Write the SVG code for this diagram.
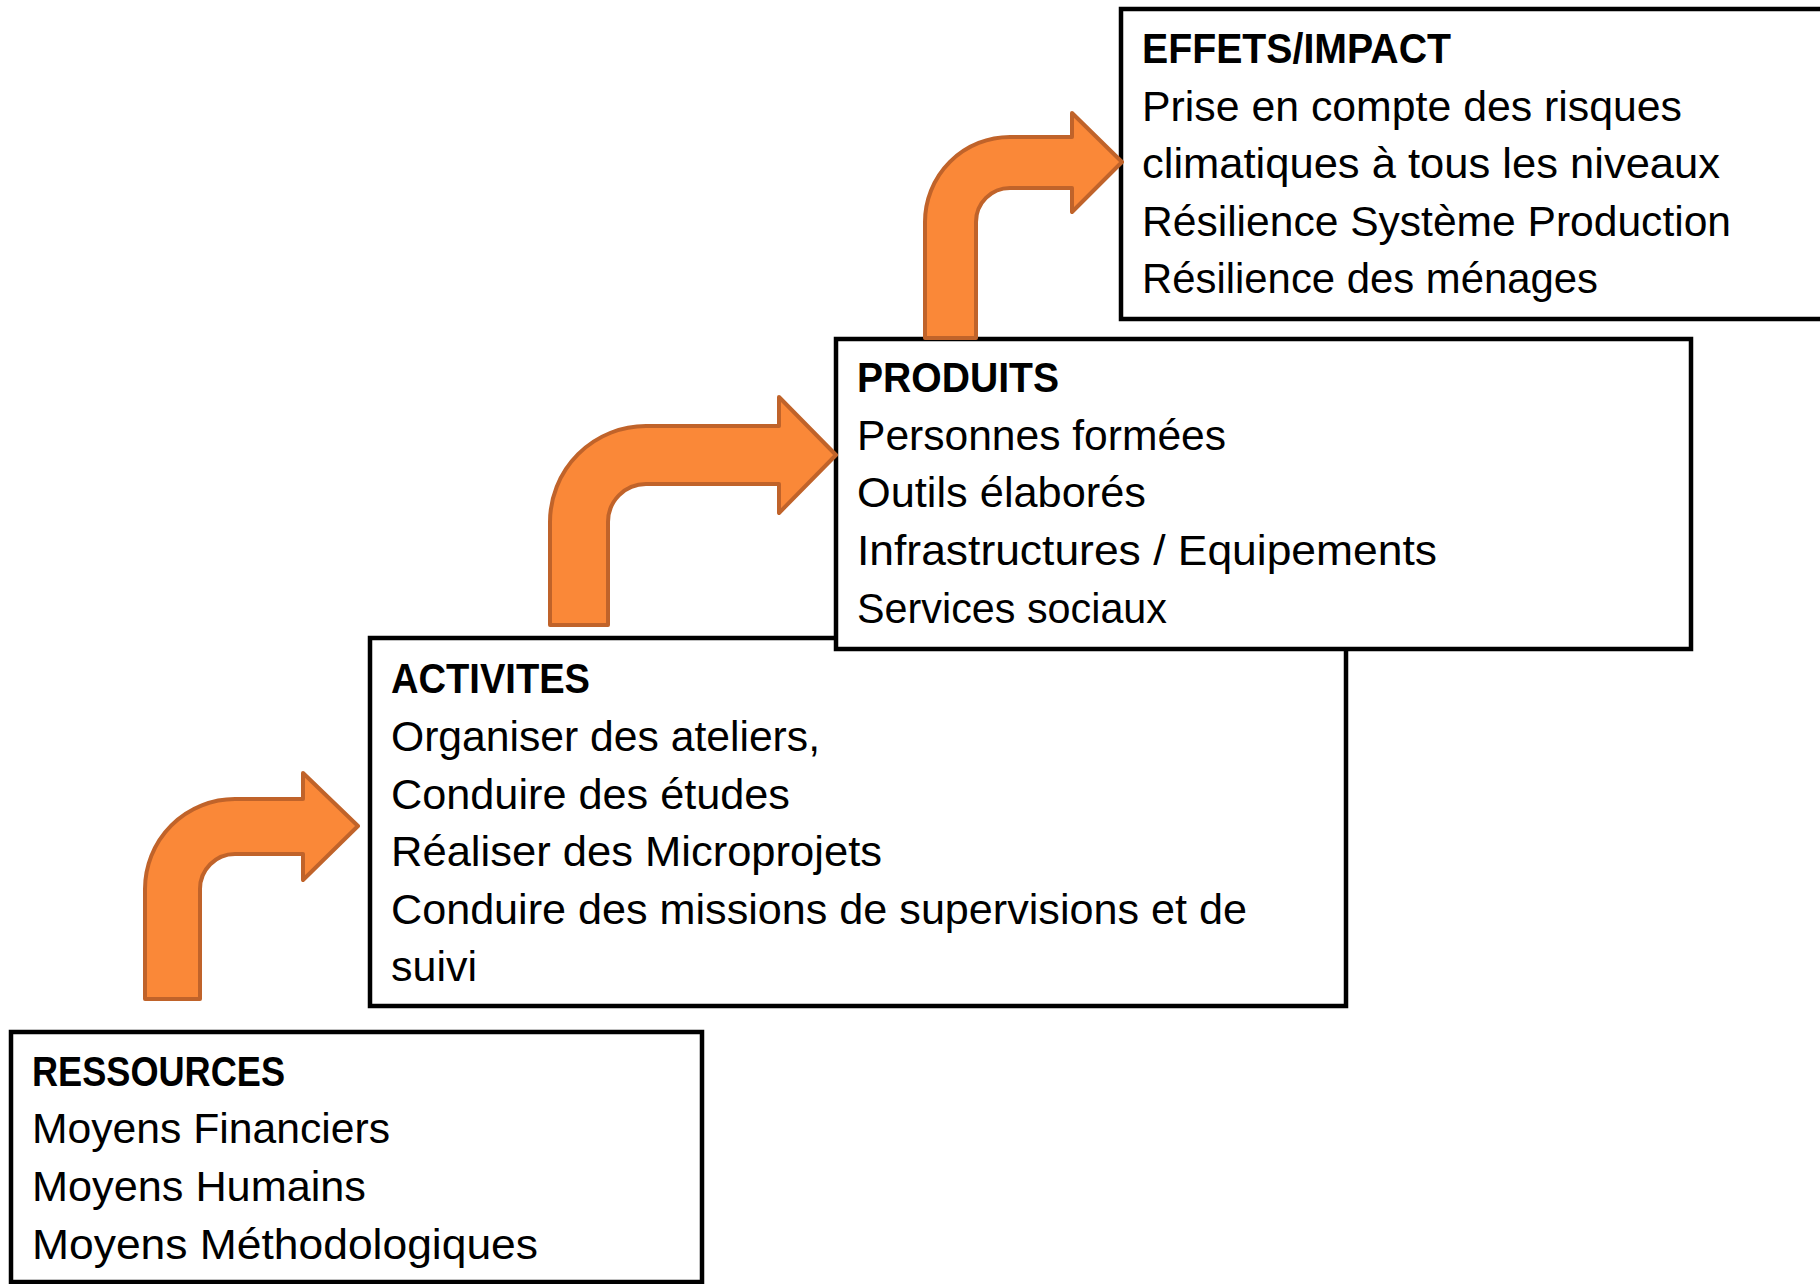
<svg xmlns="http://www.w3.org/2000/svg" width="1820" height="1284" viewBox="0 0 1820 1284">
<style>
.box{fill:#fff;stroke:#000;stroke-width:4.5}
.t{font-family:"Liberation Sans",Arial,sans-serif;font-size:42px;fill:#000}
.h{font-weight:bold}
.arr{fill:#FA8838;stroke:#C0632A;stroke-width:4;stroke-linejoin:round}
</style>
<rect width="1820" height="1284" fill="#fff"/>
<g id="activites">
<rect class="box" x="370" y="638" width="976" height="368"/>
<text class="t h" x="391" y="693" textLength="199" lengthAdjust="spacingAndGlyphs">ACTIVITES</text>
<text class="t" x="391" y="751" textLength="429" lengthAdjust="spacingAndGlyphs">Organiser des ateliers,</text>
<text class="t" x="391" y="809" textLength="399" lengthAdjust="spacingAndGlyphs">Conduire des études</text>
<text class="t" x="391" y="866" textLength="491" lengthAdjust="spacingAndGlyphs">Réaliser des Microprojets</text>
<text class="t" x="391" y="924" textLength="856" lengthAdjust="spacingAndGlyphs">Conduire des missions de supervisions et de</text>
<text class="t" x="391" y="981" textLength="86" lengthAdjust="spacingAndGlyphs">suivi</text>
</g>
<g id="produits">
<rect class="box" x="836" y="339" width="855" height="310"/>
<text class="t h" x="857" y="392" textLength="202" lengthAdjust="spacingAndGlyphs">PRODUITS</text>
<text class="t" x="857" y="450" textLength="369" lengthAdjust="spacingAndGlyphs">Personnes formées</text>
<text class="t" x="857" y="507" textLength="289" lengthAdjust="spacingAndGlyphs">Outils élaborés</text>
<text class="t" x="857" y="565" textLength="580" lengthAdjust="spacingAndGlyphs">Infrastructures / Equipements</text>
<text class="t" x="857" y="623" textLength="310" lengthAdjust="spacingAndGlyphs">Services sociaux</text>
</g>
<g id="effets">
<rect class="box" x="1121" y="9" width="720" height="310"/>
<text class="t h" x="1142" y="63" textLength="309" lengthAdjust="spacingAndGlyphs">EFFETS/IMPACT</text>
<text class="t" x="1142" y="121" textLength="540" lengthAdjust="spacingAndGlyphs">Prise en compte des risques</text>
<text class="t" x="1142" y="178" textLength="578" lengthAdjust="spacingAndGlyphs">climatiques à tous les niveaux</text>
<text class="t" x="1142" y="236" textLength="589" lengthAdjust="spacingAndGlyphs">Résilience Système Production</text>
<text class="t" x="1142" y="293" textLength="456" lengthAdjust="spacingAndGlyphs">Résilience des ménages</text>
</g>
<g id="ressources">
<rect class="box" x="11" y="1032" width="691" height="250"/>
<text class="t h" x="32" y="1086" textLength="253" lengthAdjust="spacingAndGlyphs">RESSOURCES</text>
<text class="t" x="32" y="1143" textLength="358" lengthAdjust="spacingAndGlyphs">Moyens Financiers</text>
<text class="t" x="32" y="1201" textLength="334" lengthAdjust="spacingAndGlyphs">Moyens Humains</text>
<text class="t" x="32" y="1259" textLength="506" lengthAdjust="spacingAndGlyphs">Moyens Méthodologiques</text>
</g>
<g id="connectors">
<path class="arr" d="M 145 999 L 145 889 A 90 90 0 0 1 235 799 L 303 799 L 303 773 L 358 826 L 303 880 L 303 854 L 235 854 A 35 35 0 0 0 200 889 L 200 999 Z"/>
<path class="arr" d="M 550 625 L 550 522 A 96 96 0 0 1 646 426 L 779 426 L 779 397 L 836 455 L 779 513 L 779 484 L 646 484 A 38 38 0 0 0 608 522 L 608 625 Z"/>
<path class="arr" d="M 925 338 L 925 222 A 85 85 0 0 1 1010 137 L 1072 137 L 1072 113 L 1122 162 L 1072 212 L 1072 188 L 1010 188 A 34 34 0 0 0 976 222 L 976 338 Z"/>
</g>
</svg>
